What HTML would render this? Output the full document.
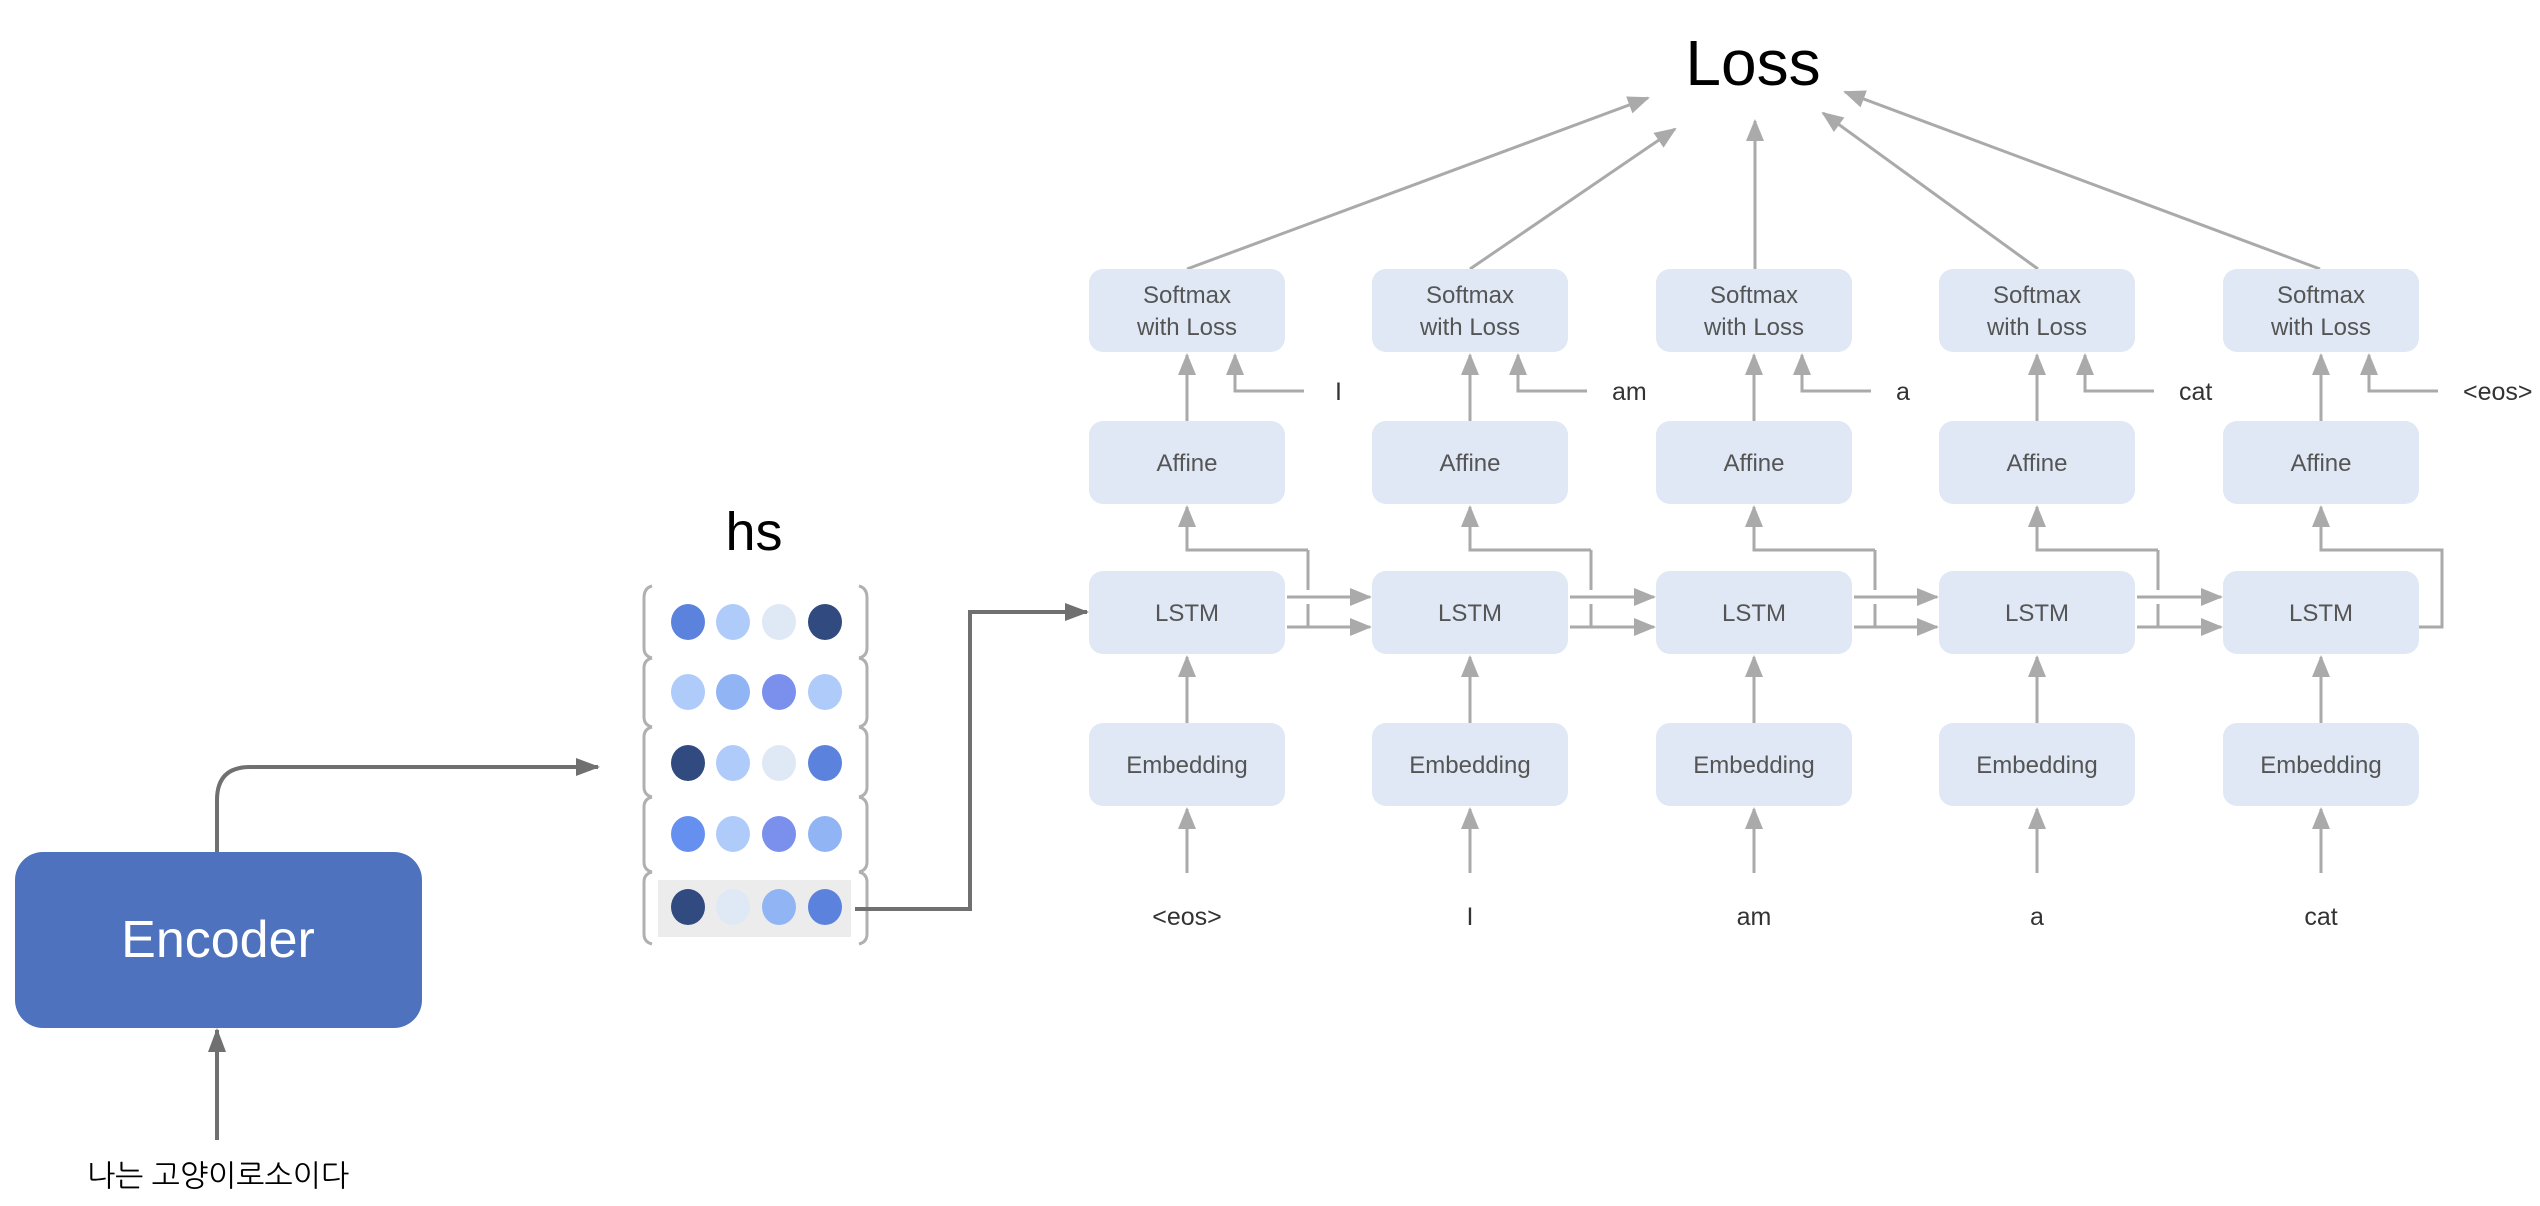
<!DOCTYPE html>
<html><head><meta charset="utf-8"><style>
html,body{margin:0;padding:0;background:#fff;}
svg{display:block;}
text{font-family:"Liberation Sans","NanumGothic",sans-serif;}
</style></head><body>
<svg width="2540" height="1206" viewBox="0 0 2540 1206" xmlns="http://www.w3.org/2000/svg">
<defs>
<marker id="ag" markerWidth="10" markerHeight="10" refX="9" refY="5" orient="auto" markerUnits="userSpaceOnUse" viewBox="0 0 10 10"><path d="M0,0 L10,5 L0,10 z" fill="#aaaaaa"/></marker>
<marker id="ag2" markerWidth="22" markerHeight="18" refX="20" refY="9" orient="auto" markerUnits="userSpaceOnUse"><path d="M0,0 L22,9 L0,18 z" fill="#aaaaaa"/></marker>
<marker id="ad" markerWidth="24" markerHeight="18" refX="22" refY="9" orient="auto" markerUnits="userSpaceOnUse"><path d="M0,0 L24,9 L0,18 z" fill="#707070"/></marker>
</defs>

<!-- Loss -->
<text x="1753" y="85" font-size="64" text-anchor="middle" fill="#000">Loss</text>
<g stroke="#aaaaaa" stroke-width="3" fill="none" marker-end="url(#ag2)">
<line x1="1187" y1="269" x2="1648" y2="98"/>
<line x1="1470" y1="269" x2="1675" y2="129"/>
<line x1="1755" y1="269" x2="1755" y2="121"/>
<line x1="2038" y1="269" x2="1823" y2="113"/>
<line x1="2320" y1="269" x2="1845" y2="92"/>
</g>

<g id="cols">
</g>

<!-- columns -->
<g font-size="25" fill="#555" text-anchor="middle">
<!-- col template repeated -->
</g>

<script>
</script>

<!-- Generated columns -->
<g>
<!-- col 0 -->
</g>

<!-- Encoder -->
<rect x="15" y="852" width="407" height="176" rx="28" fill="#4e72bd"/>
<text x="218" y="957" font-size="52" fill="#fff" text-anchor="middle">Encoder</text>
<path d="M217,852 L217,800 Q217,767 250,767 L598,767" stroke="#707070" stroke-width="4" fill="none" marker-end="url(#ad)"/>
<line x1="217" y1="1140" x2="217" y2="1030" stroke="#707070" stroke-width="4" marker-end="url(#ad)"/>
<text x="218" y="1186" font-size="30" fill="#000" text-anchor="middle" font-family="'Liberation Sans','NanumGothic','Noto Sans CJK KR',sans-serif">나는 고양이로소이다</text>

<!-- hs -->
<text x="754" y="550" font-size="54" fill="#000" text-anchor="middle">hs</text>
<rect x="658" y="880" width="193" height="57" fill="#ececec"/>
<g stroke="#b0b0b0" stroke-width="3" fill="none">
<path d="M652,586 Q644,588 644,598 L644,648 Q644,656 652,658"/>
<path d="M652,658 Q644,660 644,668 L644,717 Q644,725 652,727"/>
<path d="M652,727 Q644,729 644,737 L644,787 Q644,795 652,797"/>
<path d="M652,797 Q644,799 644,807 L644,862 Q644,870 652,872"/>
<path d="M652,872 Q644,874 644,882 L644,934 Q644,942 652,944"/>
<path d="M859,586 Q867,588 867,598 L867,648 Q867,656 859,658"/>
<path d="M859,658 Q867,660 867,668 L867,717 Q867,725 859,727"/>
<path d="M859,727 Q867,729 867,737 L867,787 Q867,795 859,797"/>
<path d="M859,797 Q867,799 867,807 L867,862 Q867,870 859,872"/>
<path d="M859,872 Q867,874 867,882 L867,934 Q867,942 859,944"/>
</g>
<g>
<ellipse cx="688" cy="622" rx="17" ry="18" fill="#5b83dd"/><ellipse cx="733" cy="622" rx="17" ry="18" fill="#aecbfa"/><ellipse cx="779" cy="622" rx="17" ry="18" fill="#dfe8f5"/><ellipse cx="825" cy="622" rx="17" ry="18" fill="#314a7f"/>
<ellipse cx="688" cy="692" rx="17" ry="18" fill="#aecbfa"/><ellipse cx="733" cy="692" rx="17" ry="18" fill="#91b4f5"/><ellipse cx="779" cy="692" rx="17" ry="18" fill="#7b90ec"/><ellipse cx="825" cy="692" rx="17" ry="18" fill="#aecbfa"/>
<ellipse cx="688" cy="763" rx="17" ry="18" fill="#314a7f"/><ellipse cx="733" cy="763" rx="17" ry="18" fill="#aecbfa"/><ellipse cx="779" cy="763" rx="17" ry="18" fill="#dfe8f5"/><ellipse cx="825" cy="763" rx="17" ry="18" fill="#5b83dd"/>
<ellipse cx="688" cy="834" rx="17" ry="18" fill="#6690ef"/><ellipse cx="733" cy="834" rx="17" ry="18" fill="#aecbfa"/><ellipse cx="779" cy="834" rx="17" ry="18" fill="#7b90ec"/><ellipse cx="825" cy="834" rx="17" ry="18" fill="#91b4f5"/>
<ellipse cx="688" cy="907" rx="17" ry="18" fill="#314a7f"/><ellipse cx="733" cy="907" rx="17" ry="18" fill="#dfe8f5"/><ellipse cx="779" cy="907" rx="17" ry="18" fill="#91b4f5"/><ellipse cx="825" cy="907" rx="17" ry="18" fill="#5b83dd"/>
</g>
<path d="M855,909 L970,909 L970,612 L1087,612" stroke="#707070" stroke-width="4" fill="none" marker-end="url(#ad)"/>

<!-- COLUMN 1 (x=1089) -->
<g transform="translate(1089,0)">
<rect x="0" y="269" width="196" height="83" rx="14" fill="#dfe8f4"/>
<rect x="0" y="421" width="196" height="83" rx="14" fill="#dfe8f4"/>
<rect x="0" y="571" width="196" height="83" rx="14" fill="#dfe8f4"/>
<rect x="0" y="723" width="196" height="83" rx="14" fill="#dfe8f4"/>
<g font-size="24" fill="#555" text-anchor="middle">
<text x="98" y="303">Softmax</text><text x="98" y="335">with Loss</text>
<text x="98" y="471">Affine</text><text x="98" y="621">LSTM</text><text x="98" y="773">Embedding</text>
</g>
<g stroke="#aaaaaa" stroke-width="3" fill="none" marker-end="url(#ag2)">
<line x1="98" y1="421" x2="98" y2="355"/>
<polyline points="215,391 146,391 146,355"/>
<polyline points="219,550 98,550 98,507"/>
<line x1="98" y1="873" x2="98" y2="809"/>
<line x1="98" y1="723" x2="98" y2="657"/>
</g>
</g>
<text x="1335" y="400" font-size="25" fill="#333">I</text>
<text x="1187" y="925" font-size="25" fill="#333" text-anchor="middle">&lt;eos&gt;</text>

<!-- COLUMN 2 (x=1372) -->
<g transform="translate(1372,0)">
<rect x="0" y="269" width="196" height="83" rx="14" fill="#dfe8f4"/>
<rect x="0" y="421" width="196" height="83" rx="14" fill="#dfe8f4"/>
<rect x="0" y="571" width="196" height="83" rx="14" fill="#dfe8f4"/>
<rect x="0" y="723" width="196" height="83" rx="14" fill="#dfe8f4"/>
<g font-size="24" fill="#555" text-anchor="middle">
<text x="98" y="303">Softmax</text><text x="98" y="335">with Loss</text>
<text x="98" y="471">Affine</text><text x="98" y="621">LSTM</text><text x="98" y="773">Embedding</text>
</g>
<g stroke="#aaaaaa" stroke-width="3" fill="none" marker-end="url(#ag2)">
<line x1="98" y1="421" x2="98" y2="355"/>
<polyline points="215,391 146,391 146,355"/>
<polyline points="219,550 98,550 98,507"/>
<line x1="98" y1="873" x2="98" y2="809"/>
<line x1="98" y1="723" x2="98" y2="657"/>
</g>
</g>
<text x="1612" y="400" font-size="25" fill="#333">am</text>
<text x="1470" y="925" font-size="25" fill="#333" text-anchor="middle">I</text>

<!-- COLUMN 3 (x=1656) -->
<g transform="translate(1656,0)">
<rect x="0" y="269" width="196" height="83" rx="14" fill="#dfe8f4"/>
<rect x="0" y="421" width="196" height="83" rx="14" fill="#dfe8f4"/>
<rect x="0" y="571" width="196" height="83" rx="14" fill="#dfe8f4"/>
<rect x="0" y="723" width="196" height="83" rx="14" fill="#dfe8f4"/>
<g font-size="24" fill="#555" text-anchor="middle">
<text x="98" y="303">Softmax</text><text x="98" y="335">with Loss</text>
<text x="98" y="471">Affine</text><text x="98" y="621">LSTM</text><text x="98" y="773">Embedding</text>
</g>
<g stroke="#aaaaaa" stroke-width="3" fill="none" marker-end="url(#ag2)">
<line x1="98" y1="421" x2="98" y2="355"/>
<polyline points="215,391 146,391 146,355"/>
<polyline points="219,550 98,550 98,507"/>
<line x1="98" y1="873" x2="98" y2="809"/>
<line x1="98" y1="723" x2="98" y2="657"/>
</g>
</g>
<text x="1896" y="400" font-size="25" fill="#333">a</text>
<text x="1754" y="925" font-size="25" fill="#333" text-anchor="middle">am</text>

<!-- COLUMN 4 (x=1939) -->
<g transform="translate(1939,0)">
<rect x="0" y="269" width="196" height="83" rx="14" fill="#dfe8f4"/>
<rect x="0" y="421" width="196" height="83" rx="14" fill="#dfe8f4"/>
<rect x="0" y="571" width="196" height="83" rx="14" fill="#dfe8f4"/>
<rect x="0" y="723" width="196" height="83" rx="14" fill="#dfe8f4"/>
<g font-size="24" fill="#555" text-anchor="middle">
<text x="98" y="303">Softmax</text><text x="98" y="335">with Loss</text>
<text x="98" y="471">Affine</text><text x="98" y="621">LSTM</text><text x="98" y="773">Embedding</text>
</g>
<g stroke="#aaaaaa" stroke-width="3" fill="none" marker-end="url(#ag2)">
<line x1="98" y1="421" x2="98" y2="355"/>
<polyline points="215,391 146,391 146,355"/>
<polyline points="219,550 98,550 98,507"/>
<line x1="98" y1="873" x2="98" y2="809"/>
<line x1="98" y1="723" x2="98" y2="657"/>
</g>
</g>
<text x="2179" y="400" font-size="25" fill="#333">cat</text>
<text x="2037" y="925" font-size="25" fill="#333" text-anchor="middle">a</text>

<!-- COLUMN 5 (x=2223) -->
<g transform="translate(2223,0)">
<rect x="0" y="269" width="196" height="83" rx="14" fill="#dfe8f4"/>
<rect x="0" y="421" width="196" height="83" rx="14" fill="#dfe8f4"/>
<rect x="0" y="571" width="196" height="83" rx="14" fill="#dfe8f4"/>
<rect x="0" y="723" width="196" height="83" rx="14" fill="#dfe8f4"/>
<g font-size="24" fill="#555" text-anchor="middle">
<text x="98" y="303">Softmax</text><text x="98" y="335">with Loss</text>
<text x="98" y="471">Affine</text><text x="98" y="621">LSTM</text><text x="98" y="773">Embedding</text>
</g>
<g stroke="#aaaaaa" stroke-width="3" fill="none" marker-end="url(#ag2)">
<line x1="98" y1="421" x2="98" y2="355"/>
<polyline points="215,391 146,391 146,355"/>
<polyline points="196,627 219,627 219,550 98,550 98,507"/>
<line x1="98" y1="873" x2="98" y2="809"/>
<line x1="98" y1="723" x2="98" y2="657"/>
</g>
</g>
<text x="2463" y="400" font-size="25" fill="#333">&lt;eos&gt;</text>
<text x="2321" y="925" font-size="25" fill="#333" text-anchor="middle">cat</text>

<!-- LSTM horizontal connections -->
<g stroke="#aaaaaa" stroke-width="3" fill="none">
<g marker-end="url(#ag2)">
<line x1="1287" y1="597" x2="1370" y2="597"/><line x1="1287" y1="627" x2="1370" y2="627"/>
<line x1="1570" y1="597" x2="1654" y2="597"/><line x1="1570" y1="627" x2="1654" y2="627"/>
<line x1="1854" y1="597" x2="1937" y2="597"/><line x1="1854" y1="627" x2="1937" y2="627"/>
<line x1="2137" y1="597" x2="2221" y2="597"/><line x1="2137" y1="627" x2="2221" y2="627"/>
</g>
<line x1="1308" y1="550" x2="1308" y2="590"/><line x1="1308" y1="604" x2="1308" y2="627"/>
<line x1="1591" y1="550" x2="1591" y2="590"/><line x1="1591" y1="604" x2="1591" y2="627"/>
<line x1="1875" y1="550" x2="1875" y2="590"/><line x1="1875" y1="604" x2="1875" y2="627"/>
<line x1="2158" y1="550" x2="2158" y2="590"/><line x1="2158" y1="604" x2="2158" y2="627"/>
</g>
</svg>
</body></html>
